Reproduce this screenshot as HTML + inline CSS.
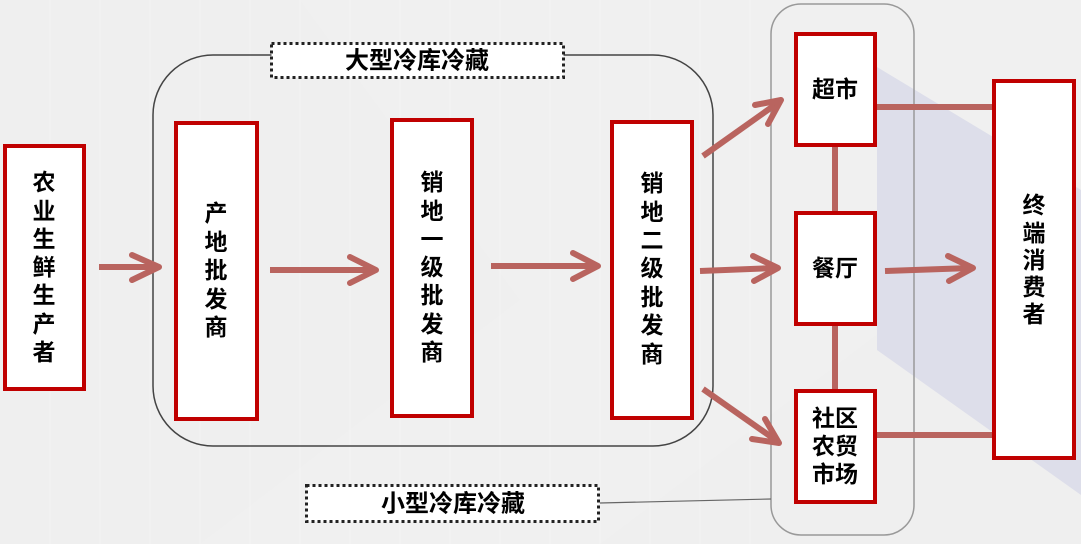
<!DOCTYPE html>
<html><head><meta charset="utf-8">
<style>
html,body{margin:0;padding:0;}
body{width:1081px;height:544px;overflow:hidden;background:#efefef;}
svg{display:block;}
text{font-family:"Liberation Sans","Noto Sans CJK SC",sans-serif;font-weight:bold;fill:#000;}
</style></head>
<body>
<svg width="1081" height="544" viewBox="0 0 1081 544" xmlns="http://www.w3.org/2000/svg">
  <!-- background -->
  <rect x="0" y="0" width="1081" height="544" fill="#efefef"/>
  <polygon points="300,0 1081,0 1081,180 600,544 200,544 520,300" fill="#f3f3f3" opacity="0.4"/>
  <polygon points="877,67 1081,190 1081,495 877,350" fill="#dddeea"/>
  <g stroke="#f6f6f6" stroke-width="1" opacity="0.6">
    <line x1="50" y1="0" x2="50" y2="544"/><line x1="100" y1="0" x2="100" y2="544"/>
    <line x1="150" y1="0" x2="150" y2="544"/><line x1="200" y1="0" x2="200" y2="544"/>
    <line x1="250" y1="0" x2="250" y2="544"/><line x1="300" y1="0" x2="300" y2="544"/>
    <line x1="350" y1="0" x2="350" y2="544"/><line x1="400" y1="0" x2="400" y2="544"/>
    <line x1="450" y1="0" x2="450" y2="544"/><line x1="500" y1="0" x2="500" y2="544"/>
    <line x1="550" y1="0" x2="550" y2="544"/><line x1="600" y1="0" x2="600" y2="544"/>
    <line x1="650" y1="0" x2="650" y2="544"/><line x1="700" y1="0" x2="700" y2="544"/>
    <line x1="750" y1="0" x2="750" y2="544"/>
  </g>

  <!-- big rounded rect -->
  <rect x="153" y="55" width="560" height="391" rx="60" ry="60" fill="none" stroke="#444" stroke-width="1.5"/>
  <!-- small rounded rect -->
  <rect x="771" y="4" width="143" height="531" rx="30" ry="30" fill="none" stroke="#999" stroke-width="1.5"/>
  <!-- line from small label -->
  <line x1="600" y1="503" x2="771" y2="499" stroke="#666" stroke-width="1.2"/>

  <!-- dotted label boxes -->
  <rect x="271.5" y="43.5" width="292" height="34" fill="#fff" stroke="#222" stroke-width="3" stroke-dasharray="3 3"/>
  <text x="417" y="61" font-size="24" text-anchor="middle" dominant-baseline="central">大型冷库冷藏</text>
  <rect x="306.5" y="485.5" width="292" height="36" fill="#fff" stroke="#222" stroke-width="3" stroke-dasharray="3 3"/>
  <text x="453" y="504" font-size="24" text-anchor="middle" dominant-baseline="central">小型冷库冷藏</text>

  <!-- connectors -->
  <g stroke="#b9645f" stroke-width="6" fill="none">
    <line x1="876" y1="107" x2="993" y2="107"/>
    <line x1="876" y1="435" x2="993" y2="435"/>
    <line x1="835" y1="146" x2="835" y2="212"/>
    <line x1="835" y1="325" x2="835" y2="389"/>
  </g>
  <!-- arrows -->
  <g stroke="#b9645f" stroke-width="6" fill="none" stroke-linecap="round" stroke-linejoin="round">
    <line x1="99" y1="267" x2="157" y2="267" stroke-linecap="butt"/>
    <polyline points="132,255 159,267 132,280"/>
    <line x1="270" y1="270" x2="374" y2="270" stroke-linecap="butt"/>
    <polyline points="350,257 376,270 350,283"/>
    <line x1="491" y1="266" x2="596" y2="266" stroke-linecap="butt"/>
    <polyline points="573,253 598,266 573,279"/>
    <line x1="700" y1="271" x2="776" y2="268" stroke-linecap="butt"/>
    <polyline points="753,256 778,268 754,281"/>
    <line x1="885" y1="271" x2="971" y2="268" stroke-linecap="butt"/>
    <polyline points="948,256 973,268 949,281"/>
    <line x1="703" y1="156" x2="779" y2="102" stroke-linecap="butt"/>
    <polyline points="755,105 781,100 768,124"/>
    <line x1="703" y1="389" x2="777" y2="441" stroke-linecap="butt"/>
    <polyline points="765,419 779,443 752,439"/>
  </g>

  <!-- boxes -->
  <g fill="#fff" stroke="#c00000" stroke-width="4">
    <rect x="5" y="146" width="79" height="243"/>
    <rect x="176" y="123" width="81" height="296"/>
    <rect x="392" y="120" width="80" height="296"/>
    <rect x="612" y="122" width="80" height="296"/>
    <rect x="796" y="34" width="79" height="111"/>
    <rect x="796" y="213" width="79" height="111"/>
    <rect x="796" y="391" width="79" height="111"/>
    <rect x="994" y="81" width="80" height="377"/>
  </g>

  <!-- box texts -->
  <g font-size="23" text-anchor="middle" dominant-baseline="central">
    <text x="44" y="182">农</text><text x="44" y="211">业</text><text x="44" y="239">生</text>
    <text x="44" y="267">鲜</text><text x="44" y="295">生</text><text x="44" y="324">产</text>
    <text x="44" y="352">者</text>

    <text x="216" y="213">产</text><text x="216" y="242">地</text><text x="216" y="270">批</text>
    <text x="216" y="299">发</text><text x="216" y="327">商</text>

    <text x="432" y="182">销</text><text x="432" y="211">地</text><text x="432" y="239">一</text>
    <text x="432" y="267">级</text><text x="432" y="295">批</text><text x="432" y="324">发</text>
    <text x="432" y="352">商</text>

    <text x="652" y="183">销</text><text x="652" y="212">地</text><text x="652" y="240">二</text>
    <text x="652" y="268">级</text><text x="652" y="297">批</text><text x="652" y="325">发</text>
    <text x="652" y="354">商</text>

    <text x="835" y="89">超市</text>
    <text x="835" y="268">餐厅</text>
    <text x="835" y="418">社区</text>
    <text x="835" y="446">农贸</text>
    <text x="835" y="474">市场</text>

    <text x="1034" y="205">终</text><text x="1034" y="233">端</text><text x="1034" y="260">消</text>
    <text x="1034" y="287">费</text><text x="1034" y="314">者</text>
  </g>
</svg>
</body></html>
